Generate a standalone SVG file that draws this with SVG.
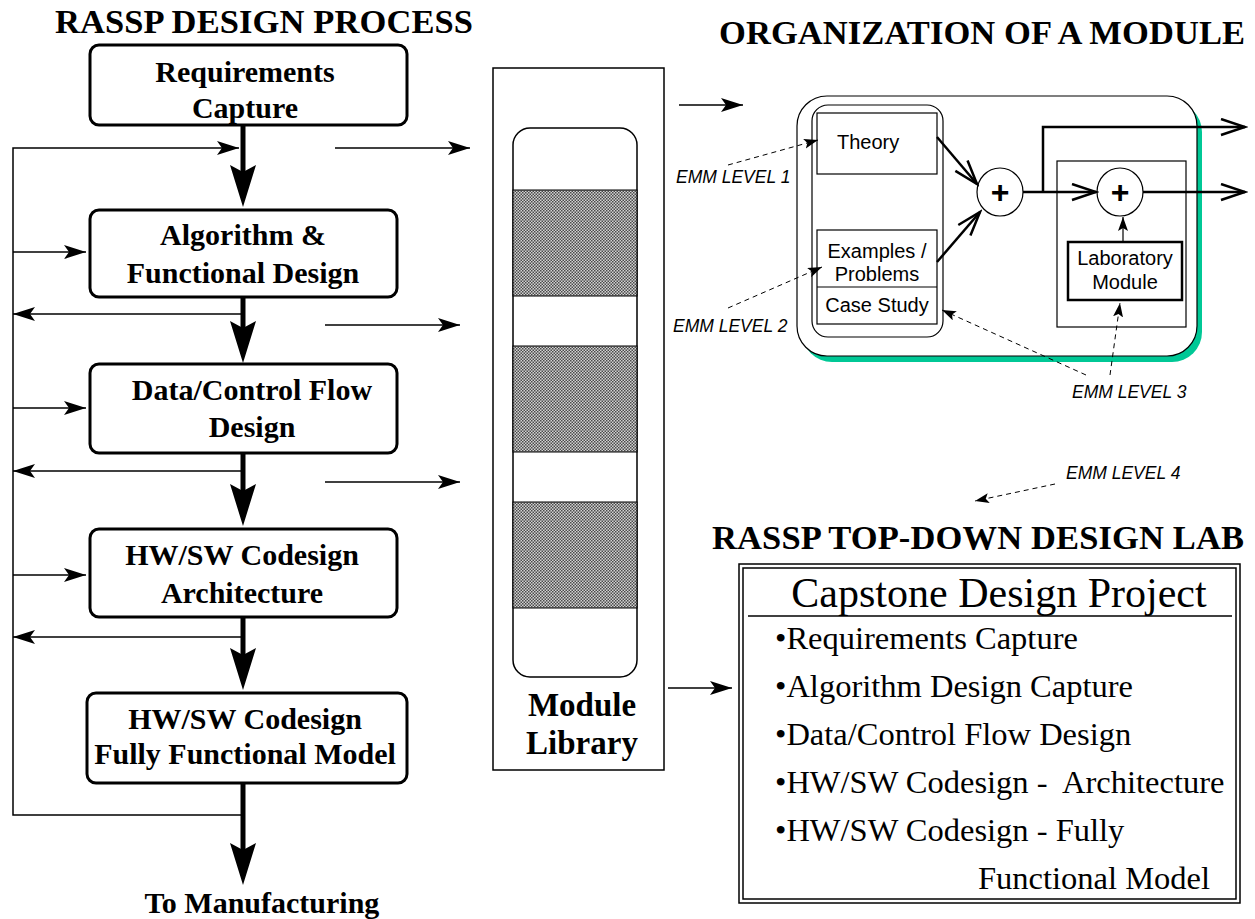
<svg xmlns="http://www.w3.org/2000/svg" width="1255" height="919" viewBox="0 0 1255 919">
<style>
.title{font-family:"Liberation Serif",serif;font-weight:bold;font-size:34.5px;fill:#000}
.bx{font-family:"Liberation Serif",serif;font-weight:bold;font-size:30px;fill:#000;text-anchor:middle}
.lib{font-family:"Liberation Serif",serif;font-weight:bold;font-size:33px;fill:#000;text-anchor:middle}
.sans{font-family:"Liberation Sans",Arial,sans-serif;font-size:20px;fill:#000}
.emm{font-family:"Liberation Sans",Arial,sans-serif;font-style:italic;font-size:17.5px;fill:#000}
.plus{font-family:"Liberation Sans",Arial,sans-serif;font-weight:bold;font-size:32px;fill:#000;text-anchor:middle}
.cap{font-family:"Liberation Serif",serif;font-size:32.5px;fill:#000}
.node{fill:#fff;stroke:#000;stroke-width:3}
.thin{fill:none;stroke:#000;stroke-width:1.5}
.thick{fill:none;stroke:#000;stroke-width:5}
.dash{fill:none;stroke:#000;stroke-width:1;stroke-dasharray:5 4}
.vee{fill:none;stroke:#000;stroke-width:2.5}
</style>
<defs>
<marker id="ah" markerUnits="userSpaceOnUse" markerWidth="24" markerHeight="16" refX="22" refY="7" orient="auto"><path d="M0,0 L22,7 L0,14 L5,7 Z" fill="#000"/></marker>
<marker id="big" markerUnits="userSpaceOnUse" markerWidth="44" markerHeight="28" refX="10" refY="13" orient="auto"><path d="M0,0 L42,13 L0,26 L7,13 Z" fill="#000"/></marker>
<marker id="open" markerUnits="userSpaceOnUse" markerWidth="28" markerHeight="20" refX="25" refY="9" orient="auto"><path d="M1,1 L25,9 L1,17" fill="none" stroke="#000" stroke-width="2.5"/></marker>
<marker id="sm" markerUnits="userSpaceOnUse" markerWidth="16" markerHeight="12" refX="14" refY="5" orient="auto"><path d="M0,0 L14,5 L0,10 L3,5 Z" fill="#000"/></marker>
<pattern id="hatch" width="3" height="3" patternUnits="userSpaceOnUse"><rect width="3" height="3" fill="#d2d2d2"/><rect width="1.5" height="1.5" fill="#4a4a4a"/><rect x="1.5" y="1.5" width="1.5" height="1.5" fill="#4a4a4a"/></pattern>
</defs>
<rect width="1255" height="919" fill="#fff"/>

<g id="titles">
<text class="title" x="55" y="33" textLength="418">RASSP DESIGN PROCESS</text>
<text class="title" x="719" y="44" textLength="526">ORGANIZATION OF A MODULE</text>
<text class="title" x="712" y="549" textLength="532">RASSP TOP-DOWN DESIGN LAB</text>
</g>

<g id="req">
<rect class="node" x="90" y="45" width="317" height="80" rx="9"/>
<text class="bx" x="245" y="82">Requirements</text>
<text class="bx" x="245" y="118">Capture</text>
</g>
<g id="alg">
<rect class="node" x="90" y="210" width="307" height="87" rx="9"/>
<text class="bx" x="243" y="245">Algorithm &amp;</text>
<text class="bx" x="243" y="283">Functional Design</text>
</g>
<g id="dcf">
<rect class="node" x="90" y="364" width="307" height="89" rx="9"/>
<text class="bx" x="252" y="400">Data/Control Flow</text>
<text class="bx" x="252" y="437">Design</text>
</g>
<g id="arch">
<rect class="node" x="90" y="529" width="307" height="88" rx="9"/>
<text class="bx" x="242" y="565">HW/SW Codesign</text>
<text class="bx" x="242" y="603">Architecture</text>
</g>
<g id="ffm">
<rect class="node" x="87" y="693" width="320" height="90" rx="9"/>
<text class="bx" x="245" y="729">HW/SW Codesign</text>
<text class="bx" x="245" y="764">Fully Functional Model</text>
</g>
<g id="mfg">
<text class="bx" x="262" y="913">To Manufacturing</text>
</g>

<g id="library">
<rect x="493" y="68" width="171" height="702" fill="#fff" stroke="#000" stroke-width="1.5"/>
<rect x="513" y="128" width="124" height="549" rx="17" fill="#fff" stroke="#000" stroke-width="1.5"/>
<rect x="513" y="190" width="124" height="106" fill="url(#hatch)" stroke="#000" stroke-width="1"/>
<rect x="513" y="346" width="124" height="106" fill="url(#hatch)" stroke="#000" stroke-width="1"/>
<rect x="513" y="502" width="124" height="106" fill="url(#hatch)" stroke="#000" stroke-width="1"/>
<text class="lib" x="582" y="716">Module</text>
<text class="lib" x="582" y="754">Library</text>
</g>

<g id="module">
<rect x="802" y="102" width="400" height="260" rx="30" fill="#00c896"/>
<rect x="797" y="96" width="400" height="260" rx="30" fill="#fff" stroke="#000" stroke-width="1.2"/>
<rect x="812" y="105" width="131" height="232" rx="16" fill="#fff" stroke="#000" stroke-width="1.2"/>
</g>
<g id="theory">
<rect x="817" y="113" width="120" height="61" fill="#fff" stroke="#000" stroke-width="1.2"/>
<text class="sans" x="837" y="149">Theory</text>
</g>
<g id="examples">
<rect x="817" y="230" width="120" height="94" fill="#fff" stroke="#000" stroke-width="1.2"/>
<line x1="817" y1="287" x2="937" y2="287" stroke="#000" stroke-width="1.2"/>
<text class="sans" x="877" y="258" text-anchor="middle">Examples /</text>
<text class="sans" x="877" y="281" text-anchor="middle">Problems</text>
<text class="sans" x="877" y="312" text-anchor="middle">Case Study</text>
</g>
<g id="sum1">
<ellipse cx="1000" cy="192" rx="23" ry="24" fill="#fff" stroke="#000" stroke-width="1.2"/>
<text class="plus" x="1000" y="203">+</text>
</g>
<g id="lab">
<rect x="1057" y="161" width="129" height="166" fill="none" stroke="#000" stroke-width="1.2"/>
<rect x="1068" y="242" width="114" height="58" fill="#fff" stroke="#000" stroke-width="2.5"/>
<text class="sans" x="1125" y="265" text-anchor="middle">Laboratory</text>
<text class="sans" x="1125" y="289" text-anchor="middle">Module</text>
</g>
<g id="sum2">
<ellipse cx="1120" cy="192" rx="23" ry="24" fill="#fff" stroke="#000" stroke-width="1.2"/>
<text class="plus" x="1120" y="203">+</text>
</g>

<g id="emm">
<text class="emm" x="676" y="183">EMM LEVEL 1</text>
<text class="emm" x="673" y="332">EMM LEVEL 2</text>
<text class="emm" x="1072" y="398">EMM LEVEL 3</text>
<text class="emm" x="1066" y="479">EMM LEVEL 4</text>
</g>

<g id="capstone">
<rect x="739" y="564" width="501" height="339" fill="#fff" stroke="#000" stroke-width="1.5"/>
<rect x="743" y="568" width="493" height="331" fill="none" stroke="#000" stroke-width="1.5"/>
<text class="cap" x="999" y="607" text-anchor="middle" style="font-size:42px">Capstone Design Project</text>
<line x1="748" y1="616" x2="1232" y2="616" stroke="#000" stroke-width="1.5"/>
<text class="cap" x="775" y="649">•Requirements Capture</text>
<text class="cap" x="775" y="697">•Algorithm Design Capture</text>
<text class="cap" x="775" y="745">•Data/Control Flow Design</text>
<text class="cap" x="775" y="793" xml:space="preserve">•HW/SW Codesign -  Architecture</text>
<text class="cap" x="775" y="841">•HW/SW Codesign - Fully</text>
<text class="cap" x="1210" y="889" text-anchor="end">Functional Model</text>
</g>

<g id="connectors">
<path class="thin" d="M243,815 H13 V148 H239" marker-end="url(#ah)"/>
<path class="thin" d="M13,252 H86" marker-end="url(#ah)"/>
<path class="thin" d="M13,408 H86" marker-end="url(#ah)"/>
<path class="thin" d="M13,575 H86" marker-end="url(#ah)"/>
<path class="thin" d="M243,314 H13" marker-end="url(#ah)"/>
<path class="thin" d="M243,471 H13" marker-end="url(#ah)"/>
<path class="thin" d="M243,637 H13" marker-end="url(#ah)"/>
<path class="thick" d="M243,126 V175" marker-end="url(#big)"/>
<path class="thick" d="M243,298 V331" marker-end="url(#big)"/>
<path class="thick" d="M243,454 V494" marker-end="url(#big)"/>
<path class="thick" d="M243,618 V658" marker-end="url(#big)"/>
<path class="thick" d="M243,784 V853" marker-end="url(#big)"/>
<path class="thin" d="M335,148 H470" marker-end="url(#ah)"/>
<path class="thin" d="M325,325 H460" marker-end="url(#ah)"/>
<path class="thin" d="M325,482 H460" marker-end="url(#ah)"/>
<path class="thin" d="M679,105 H743" marker-end="url(#ah)"/>
<path class="thin" d="M668,688 H732" marker-end="url(#ah)"/>
<path class="vee" d="M937,137 L977,184" marker-end="url(#open)"/>
<path class="vee" d="M937,262 L980,212" marker-end="url(#open)"/>
<path class="vee" d="M1023,192 H1096" marker-end="url(#open)"/>
<path class="vee" d="M1043,192 V127 H1245" marker-end="url(#open)"/>
<path class="vee" d="M1143,192 H1245" marker-end="url(#open)"/>
<path fill="none" stroke="#000" stroke-width="1.2" d="M1123,242 V217" marker-end="url(#sm)"/>
<path class="dash" d="M728,165 L818,140" marker-end="url(#sm)"/>
<path class="dash" d="M728,308 L822,267" marker-end="url(#sm)"/>
<path class="dash" d="M1086,375 L942,310" marker-end="url(#sm)"/>
<path class="dash" d="M1110,375 L1120,303" marker-end="url(#sm)"/>
<path class="dash" d="M1055,484 L975,501" marker-end="url(#sm)"/>
</g>
</svg>
